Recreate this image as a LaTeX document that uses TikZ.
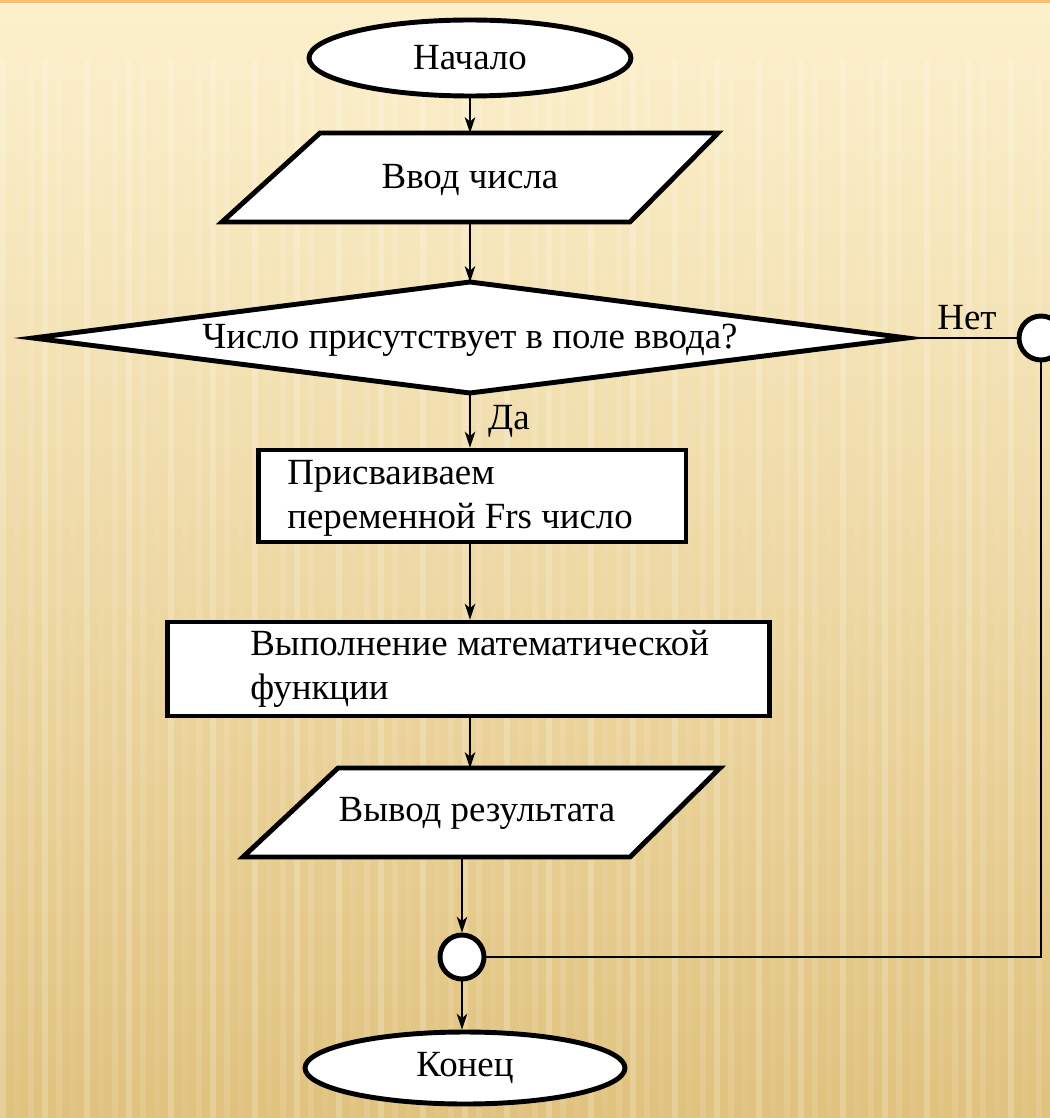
\documentclass[tikz,border=0pt]{standalone}
\usepackage{fontspec}
\setmainfont{Liberation Serif}
\usetikzlibrary{shapes.geometric,arrows.meta}
\definecolor{bgtop}{HTML}{FCF0CC}
\definecolor{bgbot}{HTML}{E0C27E}
\definecolor{topline}{HTML}{F2BE78}
\begin{document}
\begin{tikzpicture}[x=0.02cm,y=-0.02cm,
  shp/.style={draw=black,line width=2.8pt,fill=white},
  conn/.style={line width=1.1pt,-{Stealth[length=9pt,width=6pt,inset=2.5pt]}},
  plain/.style={line width=1.1pt},
  txt/.style={font=\fontsize{21}{25}\selectfont,inner sep=0pt},
  joint/.style={shp,circle,minimum size=0.88cm,inner sep=0pt}]
\useasboundingbox (0,0) rectangle (1050,1118);
\shade[top color=bgtop,bottom color=bgbot] (0,0) rectangle (1050,1118);
\foreach \i in {0,...,74}{
  \pgfmathsetmacro{\op}{mod(\i,3)==0?0.2:(mod(\i,2)==0?0.12:0.05)}
  \fill[white,opacity=\op] (\i*14,60) rectangle (\i*14+6,1118);
}
\fill[topline] (0,0) rectangle (1050,3);
% start
\node[shp,ellipse,minimum width=6.44cm,minimum height=1.52cm,inner sep=0pt,txt] (start) at (470,58) {Начало};
% input parallelogram
\draw[shp] (320,133) -- (718,133) -- (630,222) -- (222,222) -- cycle;
\coordinate (inT) at (470,133);
\coordinate (inB) at (470,222);
\node[txt] (inp) at (470,180) {Ввод числа};
% decision diamond
\draw[shp] (470,282) -- (907,338) -- (470,393) -- (33,338) -- cycle;
\coordinate (decT) at (470,282);
\coordinate (decB) at (470,393);
\coordinate (decR) at (907,338);
\node[txt] (dec) at (470,340) {Число присутствует в поле ввода?};
% box 1
\node[shp,rectangle,minimum width=8.56cm,minimum height=1.84cm,inner sep=0pt] (b1) at (472,496) {};
\node[txt,anchor=west,align=left] (b1t) at (287,498) {Присваиваем\\переменной Frs число};
% box 2
\node[shp,rectangle,minimum width=12.06cm,minimum height=1.88cm,inner sep=0pt] (b2) at (468.5,669) {};
\node[txt,anchor=west,align=left] (b2t) at (250,669) {Выполнение математической\\функции};
% output parallelogram
\draw[shp] (338,768) -- (720,768) -- (630,857) -- (243,857) -- cycle;
\coordinate (outT) at (470,768);
\coordinate (outB) at (462,857);
\node[txt] (outp) at (477,813) {Вывод результата};
% joints
\node[joint] (j1) at (1041,338) {};
\node[joint] (j2) at (462,957) {};
% end
\node[shp,ellipse,minimum width=6.4cm,minimum height=1.44cm,inner sep=0pt,txt] (fin) at (465,1068) {Конец};
% connectors
\draw[conn] (start.south) -- (inT);
\draw[conn] (inB) -- (decT);
\draw[conn] (decB) -- (b1.north -| decB);
\node[txt] (yes) at (509,421) {Да};
\draw[conn] (b1.south -| decB) -- (b2.north -| decB);
\draw[conn] (b2.south -| decB) -- (outT);
\draw[conn] (outB) -- (j2.north);
\draw[conn] (j2.south) -- (fin.north -| j2.south);
\begin{scope}[on background layer/.try]
\end{scope}
\draw[plain] (decR) -- (j1.west);
\node[txt] (no) at (967,318) {Нет};
\draw[plain] (j1.south) -- (j1.south |- j2.east) -- (j2.east);
\end{tikzpicture}
\end{document}
